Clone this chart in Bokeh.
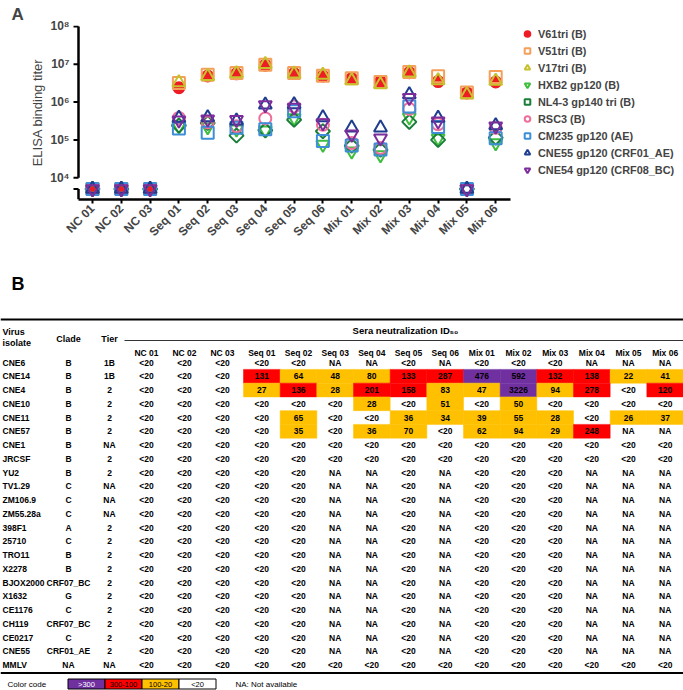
import math
from bokeh.plotting import figure
from bokeh.models import Range1d, FixedTicker, Legend, LegendItem, Title
from bokeh.embed import file_html
from bokeh.resources import INLINE
from bokeh.core.properties import value

FONT = "Liberation Sans"

# ---------------- Panel A data ----------------
categories = ["NC 01", "NC 02", "NC 03", "Seq 01", "Seq 02", "Seq 03", "Seq 04", "Seq 05",
              "Seq 06", "Mix 01", "Mix 02", "Mix 03", "Mix 04", "Mix 05", "Mix 06"]
v61tri = [5e3, 5e3, 5e3, 2.4e6, 4.9e6, 5.6e6, 9.5e6, 5.7e6, 4.9e6, 4.2e6, 3.5e6, 6.0e6, 3.5e6, 1.75e6, 3.4e6]
v51tri = [5e3, 5e3, 5e3, 3.2e6, 5.3e6, 5.9e6, 9.8e6, 5.9e6, 5.0e6, 4.3e6, 3.4e6, 6.3e6, 4.8e6, 1.8e6, 4.6e6]
v17tri = [5e3, 5e3, 5e3, 3.3e6, 4.8e6, 5.7e6, 1.0e7, 5.6e6, 5.2e6, 3.7e6, 2.9e6, 6.0e6, 3.7e6, 1.6e6, 3.6e6]
hxb2 = [5e3, 5e3, 5e3, 2.3e5, 2.2e5, 1.9e5, 1.8e5, 3.8e5, 7.6e4, 5.0e4, 4.0e4, 4.0e5, 1.1e5, 5e3, 8.3e4]
nl43 = [5e3, 5e3, 5e3, 2.4e5, 2.8e5, 1.3e5, 1.8e5, 3.4e5, 1.7e5, 7.0e4, 5.5e4, 3.0e5, 1.0e5, 5e3, 1.15e5]
rsc3 = [5e3, 5e3, 5e3, 3.8e5, 2.9e5, 2.3e5, 3.7e5, 7.6e5, 2.5e5, 8.3e4, 6.1e4, 6.6e5, 2.6e5, 5e3, 2.1e5]
cm235 = [5e3, 5e3, 5e3, 2.0e5, 1.55e5, 2.1e5, 1.9e5, 5.7e5, 9.4e4, 7.1e4, 5.6e4, 7.7e5, 2.2e5, 5e3, 1.1e5]
cne55_gp = [5e3, 5e3, 5e3, 3.8e5, 3.9e5, 3.2e5, 8.5e5, 8.6e5, 3.9e5, 2.1e5, 2.1e5, 1.6e6, 3.8e5, 5e3, 2.4e5]
cne54_gp = [5e3, 5e3, 5e3, 3.3e5, 3.5e5, 3.4e5, 8.4e5, 7.2e5, 2.8e5, 1.4e5, 1.1e5, 1.3e6, 3.1e5, 5e3, 2.3e5]
series_names = ["V61tri (B)", "V51tri (B)", "V17tri (B)", "HXB2 gp120 (B)", "NL4-3 gp140 tri (B)",
                "RSC3 (B)", "CM235 gp120 (AE)", "CNE55 gp120 (CRF01_AE)", "CNE54 gp120 (CRF08_BC)"]
series_values = [v61tri, v51tri, v17tri, hxb2, nl43, rsc3, cm235, cne55_gp, cne54_gp]
y_ticks = [1e4, 1e5, 1e6, 1e7, 1e8]
y_tick_labels = ["10⁴", "10⁵", "10⁶", "10⁷", "10⁸"]

# styles
series_colors = ["#EE1C25", "#F5A05A", "#C8C12E", "#3DBE3D", "#1B7D3A",
                 "#EF6F9A", "#3D8ED6", "#1F3D8F", "#7D2C9C"]
series_markers = ["circle", "square", "triangle", "inverted_triangle", "square",
                  "circle", "square", "triangle", "inverted_triangle"]
series_angles = [0, 0, 0, 0, math.pi / 4, 0, 0, 0, 0]
series_sizes = [11, 12, 13, 13, 10, 12, 12, 13, 13]
series_filled = [True] + [False] * 8

# ---------------- Panel B data ----------------
sera = categories
isolates = ["CNE6", "CNE14", "CNE4", "CNE10", "CNE11", "CNE57", "CNE1", "JRCSF", "YU2", "TV1.29",
            "ZM106.9", "ZM55.28a", "398F1", "25710", "TRO11", "X2278", "BJOX2000", "X1632",
            "CE1176", "CH119", "CE0217", "CNE55", "MMLV"]
clades = ["B", "B", "B", "B", "B", "B", "B", "B", "B", "C", "C", "C", "A", "C", "B", "B",
          "CRF07_BC", "G", "C", "CRF07_BC", "C", "CRF01_AE", "NA"]
tiers = ["1B", "1B", "2", "2", "2", "2", "NA", "2", "2", "NA", "NA", "NA", "2", "2", "2", "2",
         "2", "2", "2", "2", "2", "2", "NA"]
r_cne6 = ["<20", "<20", "<20", "<20", "<20", "NA", "NA", "<20", "NA", "<20", "<20", "<20", "NA", "NA", "NA"]
r_cne14 = ["<20", "<20", "<20", "131", "64", "48", "80", "133", "287", "476", "592", "132", "138", "22", "41"]
r_cne4 = ["<20", "<20", "<20", "27", "136", "28", "201", "158", "83", "47", "3226", "94", "278", "<20", "120"]
r_cne10 = ["<20", "<20", "<20", "<20", "<20", "<20", "28", "<20", "51", "<20", "50", "<20", "<20", "<20", "<20"]
r_cne11 = ["<20", "<20", "<20", "<20", "65", "<20", "<20", "36", "34", "39", "55", "28", "<20", "26", "37"]
r_cne57 = ["<20", "<20", "<20", "<20", "35", "<20", "36", "70", "<20", "62", "94", "29", "248", "NA", "NA"]
r_cne1 = ["<20", "<20", "<20", "<20", "<20", "<20", "<20", "<20", "<20", "<20", "<20", "<20", "<20", "<20", "<20"]
r_jrcsf = ["<20", "<20", "<20", "<20", "<20", "<20", "<20", "<20", "<20", "<20", "<20", "<20", "<20", "<20", "<20"]
r_yu2 = ["<20", "<20", "<20", "<20", "<20", "NA", "NA", "<20", "NA", "<20", "<20", "<20", "NA", "NA", "NA"]
r_tv129 = ["<20", "<20", "<20", "<20", "<20", "NA", "NA", "<20", "NA", "<20", "<20", "<20", "NA", "NA", "NA"]
r_zm106 = ["<20", "<20", "<20", "<20", "<20", "NA", "NA", "<20", "NA", "<20", "<20", "<20", "NA", "NA", "NA"]
r_zm55 = ["<20", "<20", "<20", "<20", "<20", "NA", "NA", "<20", "NA", "<20", "<20", "<20", "NA", "NA", "NA"]
r_398f1 = ["<20", "<20", "<20", "<20", "<20", "NA", "NA", "<20", "NA", "<20", "<20", "<20", "NA", "NA", "NA"]
r_25710 = ["<20", "<20", "<20", "<20", "<20", "NA", "NA", "<20", "NA", "<20", "<20", "<20", "NA", "NA", "NA"]
r_tro11 = ["<20", "<20", "<20", "<20", "<20", "NA", "NA", "<20", "NA", "<20", "<20", "<20", "NA", "NA", "NA"]
r_x2278 = ["<20", "<20", "<20", "<20", "<20", "NA", "NA", "<20", "NA", "<20", "<20", "<20", "NA", "NA", "NA"]
r_bjox = ["<20", "<20", "<20", "<20", "<20", "NA", "NA", "<20", "NA", "<20", "<20", "<20", "NA", "NA", "NA"]
r_x1632 = ["<20", "<20", "<20", "<20", "<20", "NA", "NA", "<20", "NA", "<20", "<20", "<20", "NA", "NA", "NA"]
r_ce1176 = ["<20", "<20", "<20", "<20", "<20", "NA", "NA", "<20", "NA", "<20", "<20", "<20", "NA", "NA", "NA"]
r_ch119 = ["<20", "<20", "<20", "<20", "<20", "NA", "NA", "<20", "NA", "<20", "<20", "<20", "NA", "NA", "NA"]
r_ce0217 = ["<20", "<20", "<20", "<20", "<20", "NA", "NA", "<20", "NA", "<20", "<20", "<20", "NA", "NA", "NA"]
r_cne55 = ["<20", "<20", "<20", "<20", "<20", "NA", "NA", "<20", "NA", "<20", "<20", "<20", "NA", "NA", "NA"]
r_mmlv = ["<20", "<20", "<20", "<20", "<20", "<20", "<20", "<20", "<20", "<20", "<20", "<20", "<20", "<20", "<20"]
neut_rows = [r_cne6, r_cne14, r_cne4, r_cne10, r_cne11, r_cne57, r_cne1, r_jrcsf, r_yu2, r_tv129,
             r_zm106, r_zm55, r_398f1, r_25710, r_tro11, r_x2278, r_bjox, r_x1632, r_ce1176,
             r_ch119, r_ce0217, r_cne55, r_mmlv]
code_labels = [">300", "300-100", "100-20", "<20"]
code_colors = ["#7030A0", "#FF0000", "#FFC000", "#FFFFFF"]
code_text_colors = ["white", "black", "black", "black"]


def cell_color(s):
    if s.isdigit():
        v = int(s)
        if v > 300:
            return code_colors[0]
        if v >= 100:
            return code_colors[1]
        if v >= 20:
            return code_colors[2]
    return None


# ---------------- Panel A figure ----------------
CAT_PX = 28.8
FRAME_L, FRAME_W, FRAME_T, FRAME_H = 70, 450, 25, 174
X0 = -22 / CAT_PX                 # frame left edge (first category sits 22 px inside)
X1 = X0 + FRAME_W / CAT_PX
X_AXIS_END = 14 + 15 / CAT_PX
AX_X = -14 / CAT_PX
TICK_LEN = 5 / CAT_PX
Y_START = 2650
Y_END = 10 ** (8 + 1 / 37.8)

pA = figure(frame_width=FRAME_W, frame_height=FRAME_H, x_range=Range1d(X0, X1),
            y_range=Range1d(Y_START, Y_END), y_axis_type="log", output_backend="svg",
            toolbar_location=None, title=None,
            min_border_left=FRAME_L, min_border_right=0,
            min_border_top=FRAME_T, min_border_bottom=268 - FRAME_T - FRAME_H)
pA.grid.visible = False
pA.outline_line_color = None

xs = list(range(len(categories)))
items = []
for name, vals, col, mk, ang, sz, filled in zip(series_names, series_values, series_colors,
                                                series_markers, series_angles, series_sizes,
                                                series_filled):
    r = pA.scatter(x=xs, y=vals, marker=mk, size=sz, angle=ang,
                   line_color=col, line_width=2,
                   fill_color=col if filled else None, fill_alpha=1 if filled else 0)
    items.append(LegendItem(label=name, renderers=[r]))

# broken y axis drawn manually
pA.segment(x0=[AX_X], y0=[y_ticks[0]], x1=[AX_X], y1=[y_ticks[-1]], line_width=2.5, line_color="black")
pA.segment(x0=[AX_X] * 5, y0=y_ticks, x1=[AX_X - TICK_LEN] * 5, y1=y_ticks, line_width=2, line_color="black")
pA.segment(x0=[AX_X], y0=[Y_START], x1=[AX_X], y1=[v61tri[0]], line_width=2.5, line_color="black")
pA.segment(x0=[AX_X], y0=[v61tri[0]], x1=[AX_X - TICK_LEN], y1=[v61tri[0]], line_width=2, line_color="black")

ya = pA.yaxis[0]
ya.ticker = FixedTicker(ticks=y_ticks)
ya.major_label_overrides = {t: l for t, l in zip(y_ticks, y_tick_labels)}
ya.axis_line_color = None
ya.major_tick_line_color = None
ya.minor_tick_line_color = None
ya.major_tick_out = 0
ya.major_tick_in = 0
ya.minor_tick_out = 0
ya.minor_tick_in = 0
ya.major_label_standoff = 1
ya.major_label_text_font = FONT
ya.major_label_text_font_size = "12px"
ya.major_label_text_font_style = "bold"
ya.axis_label = "ELISA binding titer"
ya.axis_label_text_font = FONT
ya.axis_label_text_font_size = "13px"
ya.axis_label_text_font_style = "normal"
ya.axis_label_standoff = 2

xa = pA.xaxis[0]
xa.ticker = FixedTicker(ticks=xs)
xa.major_label_overrides = {i: c for i, c in zip(xs, categories)}
xa.bounds = (AX_X, X_AXIS_END)
xa.axis_line_width = 2.5
xa.major_tick_line_width = 2
xa.major_tick_in = 0
xa.major_tick_out = 4
xa.minor_tick_line_color = None
xa.major_label_orientation = math.pi / 4
xa.major_label_standoff = 3
xa.major_label_text_font = FONT
xa.major_label_text_font_size = "12px"
xa.major_label_text_font_style = "bold"

legend = Legend(items=items, location="top_left", margin=0, padding=4, spacing=0,
                glyph_width=14, glyph_height=17, label_height=17, label_standoff=4,
                label_text_font=FONT, label_text_font_size="10.9px", label_text_font_style="bold",
                border_line_color=None, background_fill_alpha=0)
pA.add_layout(legend, "right")

pA.add_layout(Title(text="A", align="left", offset=-59, standoff=0, vertical_align="top",
                    text_font=FONT, text_font_size="17px", text_font_style="bold"), "above")

# ---------------- Panel B figure (table) ----------------
pB = figure(frame_width=683, frame_height=422, x_range=Range1d(0, 683), y_range=Range1d(690, 268),
            output_backend="svg", toolbar_location=None, title=None, min_border=0,
            x_axis_location=None, y_axis_location=None)
pB.grid.visible = False
pB.outline_line_color = None

CELL_W = 440 / 12
data_x = [146, 184, 222] + [243 + CELL_W * (i + 0.5) for i in range(12)]
ROW0 = 362
ROW_H = 13.75
row_y = [ROW0 + ROW_H * i for i in range(len(isolates))]
TXT = dict(text_font=value(FONT), text_baseline="middle")
CELL_FS = "8.5px"

# colored cells
cx, cy, cc = [], [], []
for ri, row in enumerate(neut_rows):
    for ci, s in enumerate(row):
        c = cell_color(s)
        if c:
            cx.append(data_x[ci]); cy.append(row_y[ri]); cc.append(c)
pB.rect(x=cx, y=cy, width=CELL_W, height=ROW_H, fill_color=cc, line_color=cc, line_width=0.5)

# cell texts
tx, ty, tt = [], [], []
for ri, row in enumerate(neut_rows):
    for ci, s in enumerate(row):
        tx.append(data_x[ci]); ty.append(row_y[ri]); tt.append(s)
pB.text(x=tx, y=ty, text=tt, text_align="center", text_font_size=CELL_FS, text_font_style="bold", **TXT)
pB.text(x=[2] * len(isolates), y=row_y, text=isolates, text_align="left", text_font_size=CELL_FS,
        text_font_style="bold", **TXT)
pB.text(x=[68] * len(clades), y=row_y, text=clades, text_align="center", text_font_size=CELL_FS,
        text_font_style="bold", **TXT)
pB.text(x=[109] * len(tiers), y=row_y, text=tiers, text_align="center", text_font_size=CELL_FS,
        text_font_style="bold", **TXT)

# headers
pB.text(x=[11], y=[283], text=["B"], text_align="left", text_font_size="18px", text_font_style="bold", **TXT)
pB.text(x=[2, 2], y=[331, 342], text=["Virus", "isolate"], text_align="left", text_font_size="9px",
        text_font_style="bold", **TXT)
pB.text(x=[68, 109], y=[338, 338], text=["Clade", "Tier"], text_align="center", text_font_size="9px",
        text_font_style="bold", **TXT)
pB.text(x=[405], y=[330], text=["Sera neutralization ID₅₀"], text_align="center", text_font_size="9.5px",
        text_font_style="bold", **TXT)
pB.text(x=data_x, y=[352] * len(sera), text=sera, text_align="center", text_font_size=CELL_FS,
        text_font_style="bold", **TXT)

# rules
pB.segment(x0=[0], y0=[319], x1=[683], y1=[319], line_width=2, line_color="black")
pB.segment(x0=[124], y0=[340], x1=[683], y1=[340], line_width=1, line_color="#333333")
pB.segment(x0=[0], y0=[672.5], x1=[683], y1=[672.5], line_width=2, line_color="black")

# color code
CODE_Y = 683.5
code_x = [86 + 37 * i for i in range(4)]
pB.rect(x=code_x, y=[CODE_Y] * 4, width=37, height=10, fill_color=code_colors, line_color="black", line_width=1)
pB.text(x=code_x, y=[CODE_Y] * 4, text=code_labels, text_color=code_text_colors, text_align="center",
        text_font_size="7.5px", **TXT)
pB.text(x=[7, 235], y=[CODE_Y, CODE_Y], text=["Color code", "NA: Not available"], text_align="left",
        text_font_size="8px", **TXT)

open("out.html", "w").write(file_html([pA, pB], INLINE))
